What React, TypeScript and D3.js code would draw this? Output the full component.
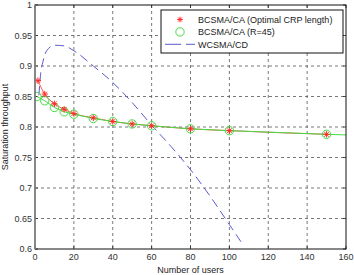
import React from 'react';
import * as d3 from 'd3';

// data
const optX = [1.5, 5, 10, 15, 20, 30, 40, 50, 60, 80, 100, 150];
const optY = [0.876, 0.854, 0.838, 0.829, 0.822, 0.815, 0.809, 0.805, 0.802, 0.797, 0.794, 0.788];

const r45X = [1, 5, 10, 15, 20, 30, 40, 50, 60, 80, 100, 150];
const r45Y = [0.85, 0.843, 0.832, 0.825, 0.821, 0.814, 0.809, 0.805, 0.802, 0.797, 0.794, 0.788];
// green line carries on past the last marker to the edge
const r45LineX = [...r45X, 160];
const r45LineY = [...r45Y, 0.787];

const wcX = [2, 3, 4, 6, 10, 15, 20, 30, 40, 50, 60, 70, 80, 90, 100, 107];
const wcY = [0.852, 0.89, 0.906, 0.925, 0.934, 0.933, 0.925, 0.9, 0.873, 0.84, 0.803, 0.768, 0.73, 0.687, 0.64, 0.607];

const xTicks = [0, 20, 40, 60, 80, 100, 120, 140, 160];
const yTicks = [0.6, 0.65, 0.7, 0.75, 0.8, 0.85, 0.9, 0.95, 1];

const legendLabels = ['BCSMA/CA (Optimal CRP length)', 'BCSMA/CA (R=45)', 'WCSMA/CD'];

const RED = '#ff2a2a';
const GREEN = '#44dd44';
const BLUE = '#5a5acc';
const FONT = 'Liberation Sans, Arial, sans-serif';

const Asterisk = ({ x, y, s = 3.2 }: { x: number; y: number; s?: number }) => {
  const d = s * 0.72;
  return (
    <path
      d={`M${x - s},${y}H${x + s}M${x},${y - s}V${y + s}M${x - d},${y - d}L${x + d},${y + d}M${x - d},${y + d}L${x + d},${y - d}`}
      stroke={RED}
      strokeWidth={1}
      fill="none"
    />
  );
};

export default function App() {
  const width = 354;
  const height = 275;
  const margin = { left: 35, right: 8, top: 5, bottom: 26 };
  const x = d3.scaleLinear().domain([0, 160]).range([margin.left, width - margin.right]);
  const y = d3.scaleLinear().domain([0.6, 1]).range([height - margin.bottom, margin.top]);

  const line = d3.line<[number, number]>().x(d => x(d[0])).y(d => y(d[1]));
  const smooth = d3.line<[number, number]>().x(d => x(d[0])).y(d => y(d[1])).curve(d3.curveMonotoneX);

  const opt = optX.map((v, i) => [v, optY[i]] as [number, number]);
  const r45 = r45X.map((v, i) => [v, r45Y[i]] as [number, number]);
  const r45Line = r45LineX.map((v, i) => [v, r45LineY[i]] as [number, number]);
  const wc = wcX.map((v, i) => [v, wcY[i]] as [number, number]);

  const [x0, x1] = x.range();
  const [y1, y0] = y.range();

  const lg = { x: 161, y: 10, w: 182, h: 43 };

  return (
    <svg width={width} height={height} style={{ position: 'absolute', left: 0, top: 0, background: '#fff' }}>
      <defs>
        <clipPath id="plot">
          <rect x={x0} y={y0} width={x1 - x0} height={y1 - y0} />
        </clipPath>
      </defs>
      {/* grid */}
      {xTicks.slice(1, -1).map(t => (
        <line key={'gx' + t} x1={x(t)} x2={x(t)} y1={y0} y2={y1} stroke="#555" strokeWidth={0.8} strokeDasharray="3,3" />
      ))}
      {yTicks.slice(1, -1).map(t => (
        <line key={'gy' + t} x1={x0} x2={x1} y1={y(t)} y2={y(t)} stroke="#555" strokeWidth={0.8} strokeDasharray="3,3" />
      ))}
      {/* inner ticks */}
      {xTicks.map(t => (
        <g key={'tx' + t} stroke="#222" strokeWidth={0.8}>
          <line x1={x(t)} x2={x(t)} y1={y1} y2={y1 - 3} />
          <line x1={x(t)} x2={x(t)} y1={y0} y2={y0 + 3} />
        </g>
      ))}
      {yTicks.map(t => (
        <g key={'ty' + t} stroke="#222" strokeWidth={0.8}>
          <line x1={x0} x2={x0 + 3} y1={y(t)} y2={y(t)} />
          <line x1={x1} x2={x1 - 3} y1={y(t)} y2={y(t)} />
        </g>
      ))}
      <g clipPath="url(#plot)">
        <path d={smooth(wc) || ''} fill="none" stroke={BLUE} strokeWidth={1} strokeDasharray="9,5" />
        <path d={smooth(opt) || ''} fill="none" stroke={RED} strokeWidth={0.8} />
        <path d={line(r45Line) || ''} fill="none" stroke={GREEN} strokeWidth={1} />
        {r45.map((d, i) => (
          <circle key={'c' + i} cx={x(d[0])} cy={y(d[1])} r={4.2} fill="none" stroke={GREEN} strokeWidth={1} />
        ))}
        {opt.map((d, i) => (
          <Asterisk key={'a' + i} x={x(d[0])} y={y(d[1])} />
        ))}
      </g>
      {/* axes box */}
      <rect x={x0} y={y0} width={x1 - x0} height={y1 - y0} fill="none" stroke="#111" strokeWidth={1} />
      <line x1={x0} x2={x0} y1={y0} y2={y1} stroke="#888" strokeWidth={1.6} />
      {/* tick labels */}
      {xTicks.map(t => (
        <text key={'lx' + t} x={x(t)} y={y1 + 11} textAnchor="middle" fontSize={9} fontFamily={FONT} fill="#333">
          {t}
        </text>
      ))}
      {yTicks.map(t => (
        <text key={'ly' + t} x={x0 - 3} y={y(t) + 3} textAnchor="end" fontSize={9} fontFamily={FONT} fill="#333">
          {d3.format('~g')(t)}
        </text>
      ))}
      <text x={(x0 + x1) / 2} y={y1 + 23.5} textAnchor="middle" fontSize={9} fontFamily={FONT} fill="#222">
        Number of users
      </text>
      <text
        transform={`translate(8,${(y0 + y1) / 2}) rotate(-90)`}
        textAnchor="middle"
        fontSize={9}
        fontFamily={FONT}
        fill="#222"
      >
        Saturation throughput
      </text>
      {/* legend */}
      <rect x={lg.x} y={lg.y} width={lg.w} height={lg.h} fill="#fff" stroke="#111" strokeWidth={1} />
      {legendLabels.map((label, i) => {
        const ly = lg.y + 9.5 + i * 12.4;
        return (
          <g key={label}>
            {i === 0 && <Asterisk x={lg.x + 19} y={ly} s={2.8} />}
            {i === 1 && <circle cx={lg.x + 19} cy={ly} r={4.2} fill="none" stroke={GREEN} strokeWidth={1} />}
            {i === 2 && (
              <line x1={lg.x + 4} x2={lg.x + 34} y1={ly} y2={ly} stroke={BLUE} strokeWidth={1} strokeDasharray="16,5" />
            )}
            <text x={lg.x + 37} y={ly + 3.2} fontSize={9} fontFamily={FONT} fill="#222">
              {label}
            </text>
          </g>
        );
      })}
    </svg>
  );
}
